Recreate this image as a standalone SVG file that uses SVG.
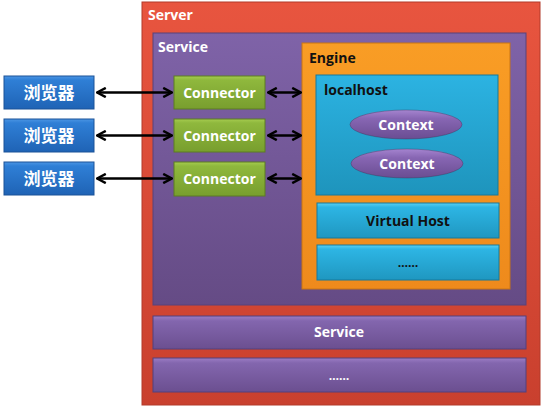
<svg xmlns="http://www.w3.org/2000/svg" width="544" height="412" viewBox="0 0 544 412">
<defs>
<linearGradient id="gRed" x1="0" y1="0" x2="0" y2="1"><stop offset="0" stop-color="#E8553F"/><stop offset="1" stop-color="#C9402E"/></linearGradient>
<linearGradient id="gPurple" x1="0" y1="0" x2="0" y2="1"><stop offset="0" stop-color="#7F63A8"/><stop offset="1" stop-color="#654B85"/></linearGradient>
<linearGradient id="gBar" x1="0" y1="0" x2="0" y2="1"><stop offset="0" stop-color="#9B7DC4"/><stop offset="0.15" stop-color="#8366AE"/><stop offset="1" stop-color="#6B4F90"/></linearGradient>
<linearGradient id="gOrange" x1="0" y1="0" x2="0" y2="1"><stop offset="0" stop-color="#F99D25"/><stop offset="1" stop-color="#EE8A1C"/></linearGradient>
<linearGradient id="gCyan" x1="0" y1="0" x2="0" y2="1"><stop offset="0" stop-color="#2CB3E2"/><stop offset="1" stop-color="#1E94BC"/></linearGradient>
<linearGradient id="gCyanBar" x1="0" y1="0" x2="0" y2="1"><stop offset="0" stop-color="#5BD0F2"/><stop offset="0.12" stop-color="#2DB5E4"/><stop offset="1" stop-color="#1F97C0"/></linearGradient>
<linearGradient id="gGreen" x1="0" y1="0" x2="0" y2="1"><stop offset="0" stop-color="#A6CC50"/><stop offset="0.12" stop-color="#8FB83D"/><stop offset="1" stop-color="#789E2E"/></linearGradient>
<linearGradient id="gBlue" x1="0" y1="0" x2="0" y2="1"><stop offset="0" stop-color="#4C96E4"/><stop offset="0.12" stop-color="#2F7FD6"/><stop offset="1" stop-color="#1F63B5"/></linearGradient>
<linearGradient id="gEll" x1="0" y1="0" x2="0" y2="1"><stop offset="0" stop-color="#A584CF"/><stop offset="0.3" stop-color="#8766B3"/><stop offset="1" stop-color="#6A4D92"/></linearGradient>
<marker id="ah" viewBox="0 0 10 10" refX="9" refY="5" markerWidth="11" markerHeight="11" markerUnits="userSpaceOnUse" orient="auto-start-reverse">
<path d="M1,0.8 L9,5 L1,9.2" fill="none" stroke="#000" stroke-width="2.2"/>
</marker>
</defs>
<style>
.t{font-family:"Open Sans","Liberation Sans",sans-serif;font-weight:bold;font-size:14px}
.w{fill:#FFFFFF}
.k{fill:#111111}
.c{text-anchor:middle}
.cjk{font-family:"Noto Sans CJK SC","Noto Sans CJK JP",sans-serif;font-weight:bold;font-size:17px;fill:#fff;text-anchor:middle}
.sh{stroke:#3a2a4a;stroke-opacity:0.35;stroke-width:1}
.conn{stroke:#000;stroke-width:2.4;fill:none;marker-start:url(#ah);marker-end:url(#ah)}
</style>
<rect width="544" height="412" fill="#FFFFFF"/>
<g id="server">
<rect x="142" y="2" width="398" height="403" fill="url(#gRed)" stroke="#B23A2A" stroke-width="1"/>
<text class="t w" x="148" y="20">Server</text>
</g>
<g id="service">
<rect x="153" y="33" width="373" height="272" fill="url(#gPurple)" stroke="#5a4278" stroke-width="1"/>
<text class="t w" x="158" y="52">Service</text>
</g>
<g id="engine">
<rect x="302" y="43" width="208" height="246" fill="url(#gOrange)" stroke="#c87415" stroke-width="1"/>
<text class="t k" x="309" y="63">Engine</text>
</g>
<g id="localhost">
<rect x="316" y="75" width="182" height="120" fill="url(#gCyan)" stroke="#17789a" stroke-width="1"/>
<text class="t k" x="324" y="95">localhost</text>
</g>
<g id="context1">
<ellipse cx="406" cy="124.5" rx="56" ry="14.5" fill="url(#gEll)" class="sh"/>
<text class="t w c" x="406" y="129.5">Context</text>
</g>
<g id="context2">
<ellipse cx="407" cy="163.5" rx="56" ry="14.5" fill="url(#gEll)" class="sh"/>
<text class="t w c" x="407" y="168.5">Context</text>
</g>
<g id="virtualhost">
<rect x="317" y="203" width="182" height="35" fill="url(#gCyanBar)" stroke="#17789a" stroke-width="1"/>
<text class="t k c" x="408" y="226">Virtual Host</text>
</g>
<g id="host-more">
<rect x="317" y="245" width="182" height="35" fill="url(#gCyanBar)" stroke="#17789a" stroke-width="1"/>
<text class="t k c" x="408" y="267" style="font-size:12px">……</text>
</g>
<g id="service2">
<rect x="153" y="316" width="373" height="33" fill="url(#gBar)" stroke="#55407a" stroke-width="1"/>
<text class="t w c" x="339" y="337">Service</text>
</g>
<g id="service-more">
<rect x="153" y="358" width="373" height="34" fill="url(#gBar)" stroke="#55407a" stroke-width="1"/>
<text class="t w c" x="339" y="380" style="font-size:12px">……</text>
</g>
<g id="browser1">
<rect x="4" y="76" width="90" height="33" fill="url(#gBlue)" stroke="#1a5298" stroke-width="1"/>
<text class="cjk" x="49" y="98.5">浏览器</text>
</g>
<g id="browser2">
<rect x="4" y="119" width="90" height="33" fill="url(#gBlue)" stroke="#1a5298" stroke-width="1"/>
<text class="cjk" x="49" y="141.5">浏览器</text>
</g>
<g id="browser3">
<rect x="4" y="162" width="90" height="33" fill="url(#gBlue)" stroke="#1a5298" stroke-width="1"/>
<text class="cjk" x="49" y="184.5">浏览器</text>
</g>
<g id="connector1">
<rect x="174" y="76" width="91" height="33" fill="url(#gGreen)" stroke="#5d7d22" stroke-width="1"/>
<text class="t w c" x="219.5" y="97.5">Connector</text>
</g>
<g id="connector2">
<rect x="174" y="119" width="91" height="33" fill="url(#gGreen)" stroke="#5d7d22" stroke-width="1"/>
<text class="t w c" x="219.5" y="140.5">Connector</text>
</g>
<g id="connector3">
<rect x="174" y="162" width="91" height="34" fill="url(#gGreen)" stroke="#5d7d22" stroke-width="1"/>
<text class="t w c" x="219.5" y="184">Connector</text>
</g>
<g id="connectors">
<line class="conn" x1="97" y1="92.5" x2="172" y2="92.5"/>
<line class="conn" x1="97" y1="135.5" x2="172" y2="135.5"/>
<line class="conn" x1="97" y1="178.5" x2="172" y2="178.5"/>
<line class="conn" x1="268" y1="92.5" x2="301" y2="92.5"/>
<line class="conn" x1="268" y1="135.5" x2="301" y2="135.5"/>
<line class="conn" x1="268" y1="178.5" x2="301" y2="178.5"/>
</g>
</svg>
